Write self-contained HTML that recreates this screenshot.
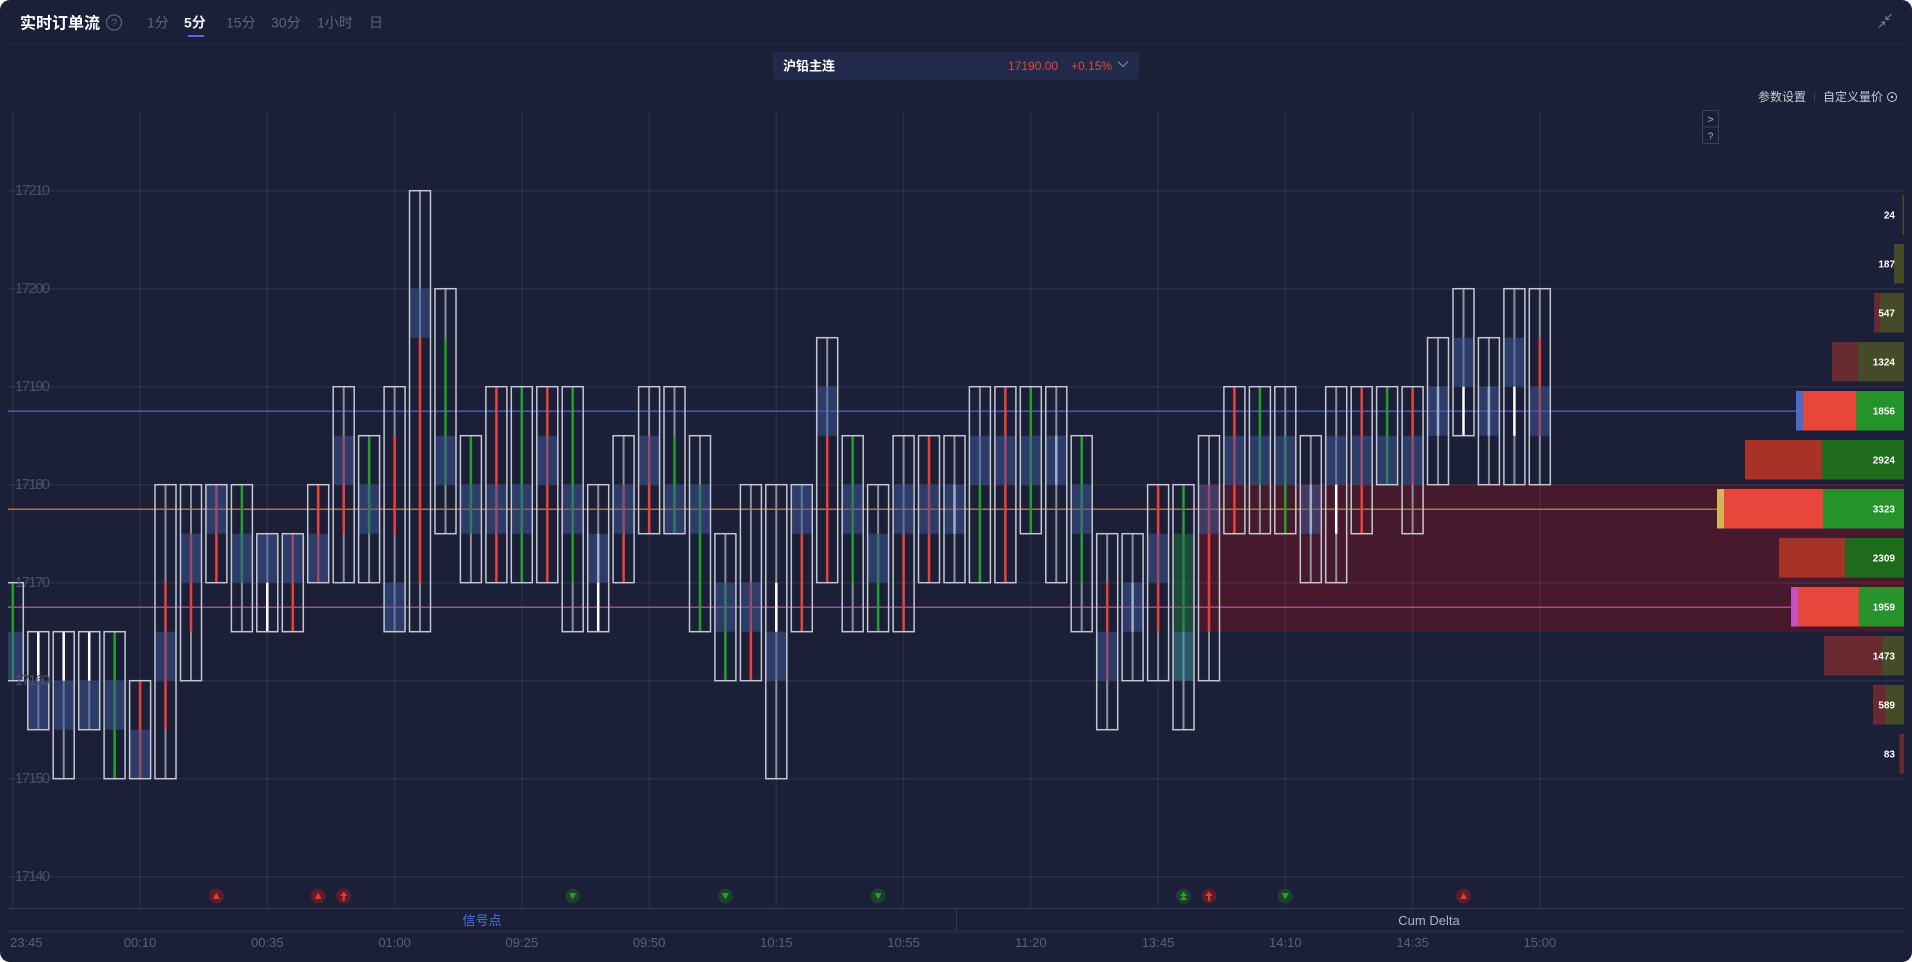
<!DOCTYPE html>
<html><head><meta charset="utf-8">
<style>
html,body{margin:0;padding:0;background:#ffffff;width:1912px;height:962px;overflow:hidden}
.panel{position:absolute;left:0;top:0;width:1912px;height:962px;background:#1b1f37;border-radius:10px;overflow:hidden}
svg{position:absolute;left:0;top:0}
.gl{stroke:rgba(255,255,255,0.065);stroke-width:1.5}
.bx{fill:none;stroke:#c4c7d1;stroke-width:1.5}
.wk{stroke:#8c909d;stroke-width:2}
.r{stroke:#e8413a;stroke-width:2.5}
.g{stroke:#22a02b;stroke-width:2.5}
.w{stroke:#ffffff;stroke-width:2.5}
.bl{fill:rgba(63,89,155,0.5)}
.yl{fill:#4c5169;font-size:14.5px}
.tl{fill:#5a6078;font-size:13px}
.vl{fill:#ffffff;font-size:10px;font-weight:bold}
</style></head>
<body>
<div class="panel">
<svg width="1912" height="962" xmlns="http://www.w3.org/2000/svg" font-family="Liberation Sans, Noto Sans CJK SC, sans-serif">
<defs><clipPath id="ca"><rect x="8" y="105" width="1896" height="803"/></clipPath></defs>

<!-- header -->
<text x="20" y="28.5" fill="#ffffff" font-size="16" font-weight="bold">实时订单流</text>
<circle cx="114" cy="22.5" r="7.5" fill="none" stroke="#5e6478" stroke-width="1.2"/>
<text x="114" y="26.5" fill="#5e6478" font-size="11" text-anchor="middle">?</text>
<text x="147" y="27.5" fill="#5f667a" font-size="14">1分</text>
<text x="184" y="27.5" fill="#eef0f6" font-size="14" font-weight="bold">5分</text>
<rect x="188" y="35" width="16" height="2" fill="#4a6ee0"/>
<text x="226" y="27.5" fill="#5f667a" font-size="14">15分</text>
<text x="271" y="27.5" fill="#5f667a" font-size="14">30分</text>
<text x="317" y="27.5" fill="#5f667a" font-size="14">1小时</text>
<text x="369" y="27.5" fill="#5f667a" font-size="14">日</text>
<line x1="8" y1="43.5" x2="1904" y2="43.5" stroke="#252a3f" stroke-width="1"/>
<!-- collapse icon -->
<g stroke="#7a8094" stroke-width="1.1" fill="none">
<path d="M1879 27.5 L1884.5 22 M1881 22 H1884.5 V25.5"/>
<path d="M1890 15.5 L1884.5 21 M1888 21 H1884.5 V17.5" transform="translate(1.5,-1.5)"/>
</g>
<!-- ticker -->
<rect x="773" y="52" width="366" height="28" rx="3" fill="#222a4b"/>
<text x="783" y="70.5" fill="#ffffff" font-size="13" font-weight="bold">沪铅主连</text>
<text x="1008" y="70" fill="#e8443c" font-size="12">17190.00</text>
<text x="1071" y="70" fill="#e8443c" font-size="12">+0.15%</text>
<polyline points="1118,61.5 1123,66.5 1128,61.5" fill="none" stroke="#8a90a4" stroke-width="1"/>
<!-- settings -->
<text x="1758" y="101" fill="#c8ccd8" font-size="12">参数设置</text>
<line x1="1814.5" y1="92" x2="1814.5" y2="102" stroke="#3a4058"/>
<text x="1823" y="101" fill="#c8ccd8" font-size="12">自定义量价</text>
<circle cx="1892" cy="97" r="4.5" fill="none" stroke="#c8ccd8" stroke-width="1"/>
<circle cx="1892" cy="97" r="1.2" fill="#c8ccd8"/>
<rect x="1702.5" y="110.5" width="16" height="16.5" fill="none" stroke="#3a4058"/>
<rect x="1702.5" y="127" width="16" height="16.5" fill="none" stroke="#3a4058"/>
<text x="1710.5" y="123" fill="#aab0c0" font-size="11" text-anchor="middle">&gt;</text>
<text x="1710.5" y="139.5" fill="#aab0c0" font-size="10" text-anchor="middle">?</text>

<g clip-path="url(#ca)">
<!-- value area region -->
<rect x="1199" y="484.7" width="705" height="147" fill="#461a2c"/>
<!-- grid -->
<g class="gl">
<line x1="8" y1="190.7" x2="1904" y2="190.7"/>
<line x1="8" y1="288.7" x2="1904" y2="288.7"/>
<line x1="8" y1="386.7" x2="1904" y2="386.7"/>
<line x1="8" y1="484.7" x2="1904" y2="484.7"/>
<line x1="8" y1="582.7" x2="1904" y2="582.7"/>
<line x1="8" y1="680.7" x2="1904" y2="680.7"/>
<line x1="8" y1="778.7" x2="1904" y2="778.7"/>
<line x1="8" y1="876.7" x2="1904" y2="876.7"/>
<line x1="12.8" y1="110" x2="12.8" y2="907"/>
<line x1="140.1" y1="110" x2="140.1" y2="907"/>
<line x1="267.3" y1="110" x2="267.3" y2="907"/>
<line x1="394.6" y1="110" x2="394.6" y2="907"/>
<line x1="521.8" y1="110" x2="521.8" y2="907"/>
<line x1="649.1" y1="110" x2="649.1" y2="907"/>
<line x1="776.3" y1="110" x2="776.3" y2="907"/>
<line x1="903.6" y1="110" x2="903.6" y2="907"/>
<line x1="1030.8" y1="110" x2="1030.8" y2="907"/>
<line x1="1158.1" y1="110" x2="1158.1" y2="907"/>
<line x1="1285.3" y1="110" x2="1285.3" y2="907"/>
<line x1="1412.6" y1="110" x2="1412.6" y2="907"/>
<line x1="1539.8" y1="110" x2="1539.8" y2="907"/>
</g>
<!-- key lines -->
<line x1="8" y1="411.2" x2="1796" y2="411.2" stroke="#4866c0" stroke-width="1.3"/>
<line x1="8" y1="509.2" x2="1717" y2="509.2" stroke="#a07a4a" stroke-width="1.5"/>
<line x1="8" y1="607.2" x2="1791" y2="607.2" stroke="#b2449e" stroke-width="1.5"/>

<!-- candles -->
<g transform="translate(12.8 0)"><path class="wk" d="M0 582.7V680.7"/><path class="g" d="M0 582.7V680.7"/><rect class="bl" x="-10" y="631.7" width="20" height="49"/><rect class="bx" x="-10.5" y="582.7" width="21" height="98"/></g>
<g transform="translate(38.3 0)"><path class="wk" d="M0 631.7V729.7"/><path class="w" d="M0 631.7V680.7"/><rect class="bl" x="-10" y="680.7" width="20" height="49"/><rect class="bx" x="-10.5" y="631.7" width="21" height="98"/></g>
<g transform="translate(63.7 0)"><path class="wk" d="M0 631.7V778.7"/><path class="w" d="M0 631.7V680.7"/><rect class="bl" x="-10" y="680.7" width="20" height="49"/><rect class="bx" x="-10.5" y="631.7" width="21" height="147"/></g>
<g transform="translate(89.2 0)"><path class="wk" d="M0 631.7V729.7"/><path class="w" d="M0 631.7V680.7"/><rect class="bl" x="-10" y="680.7" width="20" height="49"/><rect class="bx" x="-10.5" y="631.7" width="21" height="98"/></g>
<g transform="translate(114.6 0)"><path class="wk" d="M0 631.7V778.7"/><path class="g" d="M0 631.7V778.7"/><rect class="bl" x="-10" y="680.7" width="20" height="49"/><rect class="bx" x="-10.5" y="631.7" width="21" height="147"/></g>
<g transform="translate(140.1 0)"><path class="wk" d="M0 680.7V778.7"/><path class="r" d="M0 680.7V778.7"/><rect class="bl" x="-10" y="729.7" width="20" height="49"/><rect class="bx" x="-10.5" y="680.7" width="21" height="98"/></g>
<g transform="translate(165.5 0)"><path class="wk" d="M0 484.7V778.7"/><path class="r" d="M0 582.7V729.7"/><rect class="bl" x="-10" y="631.7" width="20" height="49"/><rect class="bx" x="-10.5" y="484.7" width="21" height="294"/></g>
<g transform="translate(191 0)"><path class="wk" d="M0 484.7V680.7"/><path class="r" d="M0 533.7V631.7"/><rect class="bl" x="-10" y="533.7" width="20" height="49"/><rect class="bx" x="-10.5" y="484.7" width="21" height="196"/></g>
<g transform="translate(216.4 0)"><path class="wk" d="M0 484.7V582.7"/><path class="r" d="M0 484.7V582.7"/><rect class="bl" x="-10" y="484.7" width="20" height="49"/><rect class="bx" x="-10.5" y="484.7" width="21" height="98"/></g>
<g transform="translate(241.9 0)"><path class="wk" d="M0 484.7V631.7"/><path class="g" d="M0 484.7V582.7"/><rect class="bl" x="-10" y="533.7" width="20" height="49"/><rect class="bx" x="-10.5" y="484.7" width="21" height="147"/></g>
<g transform="translate(267.3 0)"><path class="wk" d="M0 533.7V631.7"/><path class="w" d="M0 582.7V631.7"/><rect class="bl" x="-10" y="533.7" width="20" height="49"/><rect class="bx" x="-10.5" y="533.7" width="21" height="98"/></g>
<g transform="translate(292.8 0)"><path class="wk" d="M0 533.7V631.7"/><path class="r" d="M0 533.7V631.7"/><rect class="bl" x="-10" y="533.7" width="20" height="49"/><rect class="bx" x="-10.5" y="533.7" width="21" height="98"/></g>
<g transform="translate(318.2 0)"><path class="wk" d="M0 484.7V582.7"/><path class="r" d="M0 484.7V582.7"/><rect class="bl" x="-10" y="533.7" width="20" height="49"/><rect class="bx" x="-10.5" y="484.7" width="21" height="98"/></g>
<g transform="translate(343.7 0)"><path class="wk" d="M0 386.7V582.7"/><path class="r" d="M0 435.7V533.7"/><rect class="bl" x="-10" y="435.7" width="20" height="49"/><rect class="bx" x="-10.5" y="386.7" width="21" height="196"/></g>
<g transform="translate(369.1 0)"><path class="wk" d="M0 435.7V582.7"/><path class="g" d="M0 435.7V533.7"/><rect class="bl" x="-10" y="484.7" width="20" height="49"/><rect class="bx" x="-10.5" y="435.7" width="21" height="147"/></g>
<g transform="translate(394.6 0)"><path class="wk" d="M0 386.7V631.7"/><path class="r" d="M0 435.7V533.7"/><rect class="bl" x="-10" y="582.7" width="20" height="49"/><rect class="bx" x="-10.5" y="386.7" width="21" height="245"/></g>
<g transform="translate(420 0)"><path class="wk" d="M0 190.7V631.7"/><path class="r" d="M0 337.7V582.7"/><rect class="bl" x="-10" y="288.7" width="20" height="49"/><rect class="bx" x="-10.5" y="190.7" width="21" height="441"/></g>
<g transform="translate(445.5 0)"><path class="wk" d="M0 288.7V533.7"/><path class="g" d="M0 337.7V484.7"/><rect class="bl" x="-10" y="435.7" width="20" height="49"/><rect class="bx" x="-10.5" y="288.7" width="21" height="245"/></g>
<g transform="translate(470.9 0)"><path class="wk" d="M0 435.7V582.7"/><path class="g" d="M0 435.7V533.7"/><rect class="bl" x="-10" y="484.7" width="20" height="49"/><rect class="bx" x="-10.5" y="435.7" width="21" height="147"/></g>
<g transform="translate(496.4 0)"><path class="wk" d="M0 386.7V582.7"/><path class="r" d="M0 386.7V582.7"/><rect class="bl" x="-10" y="484.7" width="20" height="49"/><rect class="bx" x="-10.5" y="386.7" width="21" height="196"/></g>
<g transform="translate(521.8 0)"><path class="wk" d="M0 386.7V582.7"/><path class="g" d="M0 386.7V582.7"/><rect class="bl" x="-10" y="484.7" width="20" height="49"/><rect class="bx" x="-10.5" y="386.7" width="21" height="196"/></g>
<g transform="translate(547.3 0)"><path class="wk" d="M0 386.7V582.7"/><path class="r" d="M0 386.7V582.7"/><rect class="bl" x="-10" y="435.7" width="20" height="49"/><rect class="bx" x="-10.5" y="386.7" width="21" height="196"/></g>
<g transform="translate(572.7 0)"><path class="wk" d="M0 386.7V631.7"/><path class="g" d="M0 386.7V582.7"/><rect class="bl" x="-10" y="484.7" width="20" height="49"/><rect class="bx" x="-10.5" y="386.7" width="21" height="245"/></g>
<g transform="translate(598.2 0)"><path class="wk" d="M0 484.7V631.7"/><path class="w" d="M0 533.7V631.7"/><rect class="bl" x="-10" y="533.7" width="20" height="49"/><rect class="bx" x="-10.5" y="484.7" width="21" height="147"/></g>
<g transform="translate(623.6 0)"><path class="wk" d="M0 435.7V582.7"/><path class="r" d="M0 484.7V582.7"/><rect class="bl" x="-10" y="484.7" width="20" height="49"/><rect class="bx" x="-10.5" y="435.7" width="21" height="147"/></g>
<g transform="translate(649.1 0)"><path class="wk" d="M0 386.7V533.7"/><path class="r" d="M0 435.7V533.7"/><rect class="bl" x="-10" y="435.7" width="20" height="49"/><rect class="bx" x="-10.5" y="386.7" width="21" height="147"/></g>
<g transform="translate(674.5 0)"><path class="wk" d="M0 386.7V533.7"/><path class="g" d="M0 435.7V533.7"/><rect class="bl" x="-10" y="484.7" width="20" height="49"/><rect class="bx" x="-10.5" y="386.7" width="21" height="147"/></g>
<g transform="translate(700 0)"><path class="wk" d="M0 435.7V631.7"/><path class="g" d="M0 484.7V631.7"/><rect class="bl" x="-10" y="484.7" width="20" height="49"/><rect class="bx" x="-10.5" y="435.7" width="21" height="196"/></g>
<g transform="translate(725.4 0)"><path class="wk" d="M0 533.7V680.7"/><path class="g" d="M0 582.7V680.7"/><rect class="bl" x="-10" y="582.7" width="20" height="49"/><rect class="bx" x="-10.5" y="533.7" width="21" height="147"/></g>
<g transform="translate(750.9 0)"><path class="wk" d="M0 484.7V680.7"/><path class="r" d="M0 582.7V680.7"/><rect class="bl" x="-10" y="582.7" width="20" height="49"/><rect class="bx" x="-10.5" y="484.7" width="21" height="196"/></g>
<g transform="translate(776.3 0)"><path class="wk" d="M0 484.7V778.7"/><path class="w" d="M0 582.7V631.7"/><rect class="bl" x="-10" y="631.7" width="20" height="49"/><rect class="bx" x="-10.5" y="484.7" width="21" height="294"/></g>
<g transform="translate(801.8 0)"><path class="wk" d="M0 484.7V631.7"/><path class="r" d="M0 533.7V631.7"/><rect class="bl" x="-10" y="484.7" width="20" height="49"/><rect class="bx" x="-10.5" y="484.7" width="21" height="147"/></g>
<g transform="translate(827.2 0)"><path class="wk" d="M0 337.7V582.7"/><path class="r" d="M0 435.7V582.7"/><rect class="bl" x="-10" y="386.7" width="20" height="49"/><rect class="bx" x="-10.5" y="337.7" width="21" height="245"/></g>
<g transform="translate(852.7 0)"><path class="wk" d="M0 435.7V631.7"/><path class="g" d="M0 435.7V582.7"/><rect class="bl" x="-10" y="484.7" width="20" height="49"/><rect class="bx" x="-10.5" y="435.7" width="21" height="196"/></g>
<g transform="translate(878.1 0)"><path class="wk" d="M0 484.7V631.7"/><path class="g" d="M0 533.7V631.7"/><rect class="bl" x="-10" y="533.7" width="20" height="49"/><rect class="bx" x="-10.5" y="484.7" width="21" height="147"/></g>
<g transform="translate(903.6 0)"><path class="wk" d="M0 435.7V631.7"/><path class="r" d="M0 533.7V631.7"/><rect class="bl" x="-10" y="484.7" width="20" height="49"/><rect class="bx" x="-10.5" y="435.7" width="21" height="196"/></g>
<g transform="translate(929 0)"><path class="wk" d="M0 435.7V582.7"/><path class="r" d="M0 435.7V582.7"/><rect class="bl" x="-10" y="484.7" width="20" height="49"/><rect class="bx" x="-10.5" y="435.7" width="21" height="147"/></g>
<g transform="translate(954.5 0)"><path class="wk" d="M0 435.7V582.7"/><path class="w" d="M0 484.7V533.7"/><rect class="bl" x="-10" y="484.7" width="20" height="49"/><rect class="bx" x="-10.5" y="435.7" width="21" height="147"/></g>
<g transform="translate(979.9 0)"><path class="wk" d="M0 386.7V582.7"/><path class="g" d="M0 484.7V582.7"/><rect class="bl" x="-10" y="435.7" width="20" height="49"/><rect class="bx" x="-10.5" y="386.7" width="21" height="196"/></g>
<g transform="translate(1005.4 0)"><path class="wk" d="M0 386.7V582.7"/><path class="r" d="M0 386.7V582.7"/><rect class="bl" x="-10" y="435.7" width="20" height="49"/><rect class="bx" x="-10.5" y="386.7" width="21" height="196"/></g>
<g transform="translate(1030.8 0)"><path class="wk" d="M0 386.7V533.7"/><path class="g" d="M0 386.7V533.7"/><rect class="bl" x="-10" y="435.7" width="20" height="49"/><rect class="bx" x="-10.5" y="386.7" width="21" height="147"/></g>
<g transform="translate(1056.3 0)"><path class="wk" d="M0 386.7V582.7"/><path class="w" d="M0 435.7V484.7"/><rect class="bl" x="-10" y="435.7" width="20" height="49"/><rect class="bx" x="-10.5" y="386.7" width="21" height="196"/></g>
<g transform="translate(1081.7 0)"><path class="wk" d="M0 435.7V631.7"/><path class="g" d="M0 435.7V582.7"/><rect class="bl" x="-10" y="484.7" width="20" height="49"/><rect class="bx" x="-10.5" y="435.7" width="21" height="196"/></g>
<g transform="translate(1107.2 0)"><path class="wk" d="M0 533.7V729.7"/><path class="r" d="M0 582.7V680.7"/><rect class="bl" x="-10" y="631.7" width="20" height="49"/><rect class="bx" x="-10.5" y="533.7" width="21" height="196"/></g>
<g transform="translate(1132.6 0)"><path class="wk" d="M0 533.7V680.7"/><path class="w" d="M0 582.7V631.7"/><rect class="bl" x="-10" y="582.7" width="20" height="49"/><rect class="bx" x="-10.5" y="533.7" width="21" height="147"/></g>
<g transform="translate(1158.1 0)"><path class="wk" d="M0 484.7V680.7"/><path class="r" d="M0 484.7V631.7"/><rect class="bl" x="-10" y="533.7" width="20" height="49"/><rect class="bx" x="-10.5" y="484.7" width="21" height="196"/></g>
<g transform="translate(1183.5 0)"><path class="wk" d="M0 484.7V729.7"/><path class="g" d="M0 484.7V631.7"/><rect x="-10" y="533.7" width="20" height="98" fill="rgba(31,117,65,0.5)"/><rect x="-10" y="631.7" width="20" height="49" fill="rgba(61,149,161,0.5)"/><rect class="bx" x="-10.5" y="484.7" width="21" height="245"/></g>
<g transform="translate(1209 0)"><path class="wk" d="M0 435.7V680.7"/><path class="r" d="M0 484.7V631.7"/><rect class="bl" x="-10" y="484.7" width="20" height="49"/><rect class="bx" x="-10.5" y="435.7" width="21" height="245"/></g>
<g transform="translate(1234.4 0)"><path class="wk" d="M0 386.7V533.7"/><path class="r" d="M0 386.7V533.7"/><rect class="bl" x="-10" y="435.7" width="20" height="49"/><rect class="bx" x="-10.5" y="386.7" width="21" height="147"/></g>
<g transform="translate(1259.9 0)"><path class="wk" d="M0 386.7V533.7"/><path class="g" d="M0 386.7V484.7"/><rect class="bl" x="-10" y="435.7" width="20" height="49"/><rect class="bx" x="-10.5" y="386.7" width="21" height="147"/></g>
<g transform="translate(1285.3 0)"><path class="wk" d="M0 386.7V533.7"/><path class="g" d="M0 435.7V533.7"/><rect class="bl" x="-10" y="435.7" width="20" height="49"/><rect class="bx" x="-10.5" y="386.7" width="21" height="147"/></g>
<g transform="translate(1310.8 0)"><path class="wk" d="M0 435.7V582.7"/><path class="w" d="M0 484.7V533.7"/><rect class="bl" x="-10" y="484.7" width="20" height="49"/><rect class="bx" x="-10.5" y="435.7" width="21" height="147"/></g>
<g transform="translate(1336.2 0)"><path class="wk" d="M0 386.7V582.7"/><path class="w" d="M0 484.7V533.7"/><rect class="bl" x="-10" y="435.7" width="20" height="49"/><rect class="bx" x="-10.5" y="386.7" width="21" height="196"/></g>
<g transform="translate(1361.7 0)"><path class="wk" d="M0 386.7V533.7"/><path class="r" d="M0 386.7V533.7"/><rect class="bl" x="-10" y="435.7" width="20" height="49"/><rect class="bx" x="-10.5" y="386.7" width="21" height="147"/></g>
<g transform="translate(1387.1 0)"><path class="wk" d="M0 386.7V484.7"/><path class="g" d="M0 386.7V484.7"/><rect class="bl" x="-10" y="435.7" width="20" height="49"/><rect class="bx" x="-10.5" y="386.7" width="21" height="98"/></g>
<g transform="translate(1412.6 0)"><path class="wk" d="M0 386.7V533.7"/><path class="r" d="M0 386.7V484.7"/><rect class="bl" x="-10" y="435.7" width="20" height="49"/><rect class="bx" x="-10.5" y="386.7" width="21" height="147"/></g>
<g transform="translate(1438 0)"><path class="wk" d="M0 337.7V484.7"/><path class="w" d="M0 386.7V435.7"/><rect class="bl" x="-10" y="386.7" width="20" height="49"/><rect class="bx" x="-10.5" y="337.7" width="21" height="147"/></g>
<g transform="translate(1463.5 0)"><path class="wk" d="M0 288.7V435.7"/><path class="w" d="M0 386.7V435.7"/><rect class="bl" x="-10" y="337.7" width="20" height="49"/><rect class="bx" x="-10.5" y="288.7" width="21" height="147"/></g>
<g transform="translate(1488.9 0)"><path class="wk" d="M0 337.7V484.7"/><path class="w" d="M0 386.7V435.7"/><rect class="bl" x="-10" y="386.7" width="20" height="49"/><rect class="bx" x="-10.5" y="337.7" width="21" height="147"/></g>
<g transform="translate(1514.4 0)"><path class="wk" d="M0 288.7V484.7"/><path class="w" d="M0 386.7V435.7"/><rect class="bl" x="-10" y="337.7" width="20" height="49"/><rect class="bx" x="-10.5" y="288.7" width="21" height="196"/></g>
<g transform="translate(1539.8 0)"><path class="wk" d="M0 288.7V484.7"/><path class="r" d="M0 337.7V435.7"/><rect class="bl" x="-10" y="386.7" width="20" height="49"/><rect class="bx" x="-10.5" y="288.7" width="21" height="196"/></g>

<!-- volume profile -->
<rect x="1902.5" y="195" width="1.5" height="39.5" fill="#4a4a28"/>
<rect x="1894" y="244" width="10" height="39.5" fill="#454a28"/>
<rect x="1874" y="293" width="6" height="39.5" fill="#662a30"/><rect x="1880" y="293" width="24" height="39.5" fill="#454a28"/>
<rect x="1832" y="342" width="26" height="39.5" fill="#662a30"/><rect x="1858" y="342" width="46" height="39.5" fill="#454a28"/>
<rect x="1796" y="391" width="7" height="39.5" fill="#4a6cc8"/><rect x="1803" y="391" width="53" height="39.5" fill="#e8463b"/><rect x="1856" y="391" width="48" height="39.5" fill="#25922a"/>
<rect x="1745" y="440" width="77" height="39.5" fill="#a83228"/><rect x="1822" y="440" width="82" height="39.5" fill="#1f6b1c"/>
<rect x="1717" y="489" width="7" height="39.5" fill="#d8b45a"/><rect x="1724" y="489" width="99" height="39.5" fill="#e8463b"/><rect x="1823" y="489" width="81" height="39.5" fill="#25922a"/>
<rect x="1779" y="538" width="66" height="39.5" fill="#a83228"/><rect x="1845" y="538" width="59" height="39.5" fill="#1f6b1c"/>
<rect x="1791" y="587" width="7" height="39.5" fill="#c84fc0"/><rect x="1798" y="587" width="61" height="39.5" fill="#e8463b"/><rect x="1859" y="587" width="45" height="39.5" fill="#25922a"/>
<rect x="1824" y="636" width="58" height="39.5" fill="#682a30"/><rect x="1882" y="636" width="22" height="39.5" fill="#454a28"/>
<rect x="1873" y="685" width="13" height="39.5" fill="#682a30"/><rect x="1886" y="685" width="18" height="39.5" fill="#454a28"/>
<rect x="1899.5" y="734" width="4.5" height="39.5" fill="#682a30"/>
<g class="vl" text-anchor="end">
<text x="1895" y="218.5">24</text>
<text x="1895" y="267.5">187</text>
<text x="1895" y="316.5">547</text>
<text x="1895" y="365.5">1324</text>
<text x="1895" y="414.5">1856</text>
<text x="1895" y="463.5">2924</text>
<text x="1895" y="512.5">3323</text>
<text x="1895" y="561.5">2309</text>
<text x="1895" y="610.5">1959</text>
<text x="1895" y="659.5">1473</text>
<text x="1895" y="708.5">589</text>
<text x="1895" y="757.5">83</text>
</g>

<!-- y labels -->
<g class="yl">
<text x="15" y="195" textLength="35">17210</text>
<text x="15" y="293" textLength="35">17200</text>
<text x="15" y="391" textLength="35">17190</text>
<text x="15" y="489" textLength="35">17180</text>
<text x="15" y="587" textLength="35">17170</text>
<text x="15" y="685" textLength="35">17160</text>
<text x="15" y="783" textLength="35">17150</text>
<text x="15" y="881" textLength="35">17140</text>
</g>

<!-- signals -->
<g>
<circle cx="216.4" cy="896" r="7.5" fill="#5a1e2a"/><path d="M212.9 899 L219.9 899 L216.4 892.5Z" fill="#e63a30"/>
<circle cx="318.2" cy="896" r="7.5" fill="#5a1e2a"/><path d="M314.7 899 L321.7 899 L318.2 892.5Z" fill="#e63a30"/>
<circle cx="343.7" cy="896" r="7.5" fill="#5a1e2a"/><path d="M340 896 L347.4 896 L343.7 891.5Z M342.6 896 H344.8 V901 H342.6Z" fill="#e63a30"/>
<circle cx="572.7" cy="896" r="7.5" fill="#1e4030"/><path d="M569.2 893 L576.2 893 L572.7 899.5Z" fill="#2a9e2a"/>
<circle cx="725.4" cy="896" r="7.5" fill="#1e4030"/><path d="M721.9 893 L728.9 893 L725.4 899.5Z" fill="#2a9e2a"/>
<circle cx="878.1" cy="896" r="7.5" fill="#1e4030"/><path d="M874.6 893 L881.6 893 L878.1 899.5Z" fill="#2a9e2a"/>
<circle cx="1183.5" cy="896" r="7.5" fill="#1e4030"/><path d="M1180 896 L1187 896 L1183.5 891.5Z M1180 900 L1187 900 L1183.5 895.5Z" fill="#2a9e2a"/>
<circle cx="1209" cy="896" r="7.5" fill="#5a1e2a"/><path d="M1205.3 896 L1212.7 896 L1209 891.5Z M1207.9 896 H1210.1 V901 H1207.9Z" fill="#e63a30"/>
<circle cx="1285.3" cy="896" r="7.5" fill="#1e4030"/><path d="M1281.8 893 L1288.8 893 L1285.3 899.5Z" fill="#2a9e2a"/>
<circle cx="1463.5" cy="896" r="7.5" fill="#5a1e2a"/><path d="M1460 899 L1467 899 L1463.5 892.5Z" fill="#e63a30"/>
</g>
</g>

<!-- bottom -->
<line x1="8" y1="908.5" x2="1904" y2="908.5" stroke="#343a50" stroke-width="1"/>
<line x1="956.5" y1="909" x2="956.5" y2="930" stroke="#343a50" stroke-width="1"/>
<text x="482" y="925" fill="#4a74da" font-size="13" text-anchor="middle">信号点</text>
<text x="1429" y="925" fill="#b0b4c4" font-size="13" text-anchor="middle">Cum Delta</text>
<line x1="8" y1="931.5" x2="1904" y2="931.5" stroke="#272c42" stroke-width="2"/>
<g class="tl" text-anchor="middle">
<text x="10" y="947" text-anchor="start">23:45</text>
<text x="140.1" y="947">00:10</text>
<text x="267.3" y="947">00:35</text>
<text x="394.6" y="947">01:00</text>
<text x="521.8" y="947">09:25</text>
<text x="649.1" y="947">09:50</text>
<text x="776.3" y="947">10:15</text>
<text x="903.6" y="947">10:55</text>
<text x="1030.8" y="947">11:20</text>
<text x="1158.1" y="947">13:45</text>
<text x="1285.3" y="947">14:10</text>
<text x="1412.6" y="947">14:35</text>
<text x="1539.8" y="947">15:00</text>
</g>
</svg>
</div>
</body></html>
